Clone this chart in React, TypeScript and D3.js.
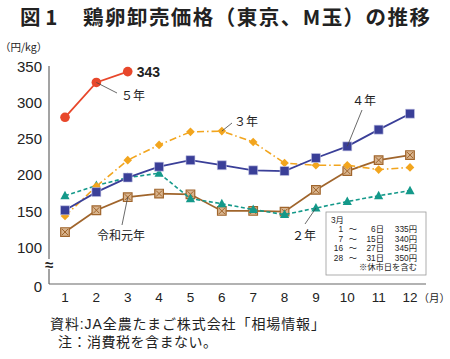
import React from "react";
import * as d3 from "d3";

const months = [1, 2, 3, 4, 5, 6, 7, 8, 9, 10, 11, 12];
const r5 = [280, 328, 343];
const r4 = [152, 177, 197, 212, 221, 214, 207, 206, 224, 240, 263, 285];
const r3 = [144, 185, 221, 242, 260, 261, 246, 217, 214, 214, 208, 211];
const r2 = [172, 186, 197, 203, 168, 161, 153, 146, 155, 164, 172, 179];
const r1 = [122, 152, 170, 175, 174, 151, 151, 150, 180, 206, 221, 228];
const yTicks = [0, 100, 150, 200, 250, 300, 350];
const boxLines = [
  ["1", "6日", "335円"],
  ["7", "15日", "340円"],
  ["16", "27日", "345円"],
  ["28", "31日", "350円"],
];

const FONT = "'Liberation Sans', 'Noto Sans CJK JP', sans-serif";
const JP = "'Noto Sans CJK JP', sans-serif";

const RED = "#e8472b";
const NAVY = "#3a3f98";
const ORANGE = "#f2a51e";
const TEAL = "#14998a";
const BROWN = "#a0652c";

export default function App() {
  const x = d3.scaleLinear().domain([1, 12]).range([65, 410]);
  const y = d3.scaleLinear().domain([0, 100, 350]).range([284, 248, 66.5]);
  const line = (arr: number[]) =>
    d3.line<number>().x((_, i) => x(months[i])).y((d) => y(d))(arr) || "";

  const sq = (cx: number, cy: number, s: number) =>
    `M${cx - s},${cy - s}h${2 * s}v${2 * s}h${-2 * s}Z`;

  const rowY = (i: number) => 223 + i * 9.45;

  return (
    <svg
      width={450}
      height={359}
      style={{ position: "absolute", left: 0, top: 0, background: "#fff" }}
    >
      <text x={20} y={25} fontFamily={JP} fontWeight="bold" fontSize={20.5} fill="#222">
        図 1
      </text>
      <text x={83} y={25} fontFamily={JP} fontWeight="bold" fontSize={20.5} fill="#222" textLength={347} lengthAdjust="spacing">
        鶏卵卸売価格（東京、M玉）の推移
      </text>
      <text x={0} y={51} fontFamily={JP} fontSize={10.5} fill="#222">
        （円/kg）
      </text>

      {/* axes */}
      <line x1={49} y1={66} x2={49} y2={284} stroke="#666" strokeWidth={1.2} />
      <line x1={49} y1={284} x2={426} y2={284} stroke="#666" strokeWidth={1.2} />
      <rect x={44} y={259} width={10} height={10} fill="#fff" />
      <text x={49} y={270} textAnchor="middle" fontFamily={FONT} fontSize={15} fontWeight="bold" fill="#222">≈</text>

      {yTicks.map((t) => (
        <text
          key={t}
          x={42}
          y={(t === 0 ? 287 : y(t)) + 5}
          textAnchor="end"
          fontFamily={FONT}
          fontSize={15}
          fill="#222"
        >
          {t}
        </text>
      ))}
      {months.map((m) => (
        <text key={m} x={x(m)} y={302} textAnchor="middle" fontFamily={FONT} fontSize={13.5} fill="#222">
          {m}
        </text>
      ))}
      <text x={418.5} y={302} fontFamily={FONT} fontSize={10.5} fill="#222">（月）</text>

      {/* 令和元年 */}
      <path d={line(r1)} fill="none" stroke={BROWN} strokeWidth={1.8} />
      {r1.map((v, i) => {
        const cx = x(months[i]);
        const cy = y(v);
        return (
          <g key={"a" + i}>
            <path d={sq(cx, cy, 4.3)} fill="#d8b48e" stroke={BROWN} strokeWidth={1.2} />
            <path d={`M${cx - 3},${cy - 3}L${cx + 3},${cy + 3}M${cx + 3},${cy - 3}L${cx - 3},${cy + 3}`} stroke={BROWN} strokeWidth={1} />
          </g>
        );
      })}

      {/* 2年 */}
      <path d={line(r2)} fill="none" stroke={TEAL} strokeWidth={1.6} strokeDasharray="4,2.5" />
      {r2.map((v, i) => {
        const cx = x(months[i]);
        const cy = y(v);
        return <path key={"b" + i} d={`M${cx},${cy - 5}L${cx + 4.6},${cy + 3.5}L${cx - 4.6},${cy + 3.5}Z`} fill={TEAL} />;
      })}

      {/* 3年 */}
      <path d={line(r3)} fill="none" stroke={ORANGE} strokeWidth={1.6} strokeDasharray="7,3,1.5,3" />
      {r3.map((v, i) => {
        const cx = x(months[i]);
        const cy = y(v);
        return <path key={"c" + i} d={`M${cx},${cy - 4.3}L${cx + 4.3},${cy}L${cx},${cy + 4.3}L${cx - 4.3},${cy}Z`} fill={ORANGE} />;
      })}

      {/* 4年 */}
      <path d={line(r4)} fill="none" stroke={NAVY} strokeWidth={1.8} />
      {r4.map((v, i) => (
        <path key={"d" + i} d={sq(x(months[i]), y(v), 4.5)} fill={NAVY} stroke="#c8cae8" strokeWidth={0.6} />
      ))}

      {/* 5年 */}
      <path d={line(r5)} fill="none" stroke={RED} strokeWidth={1.8} />
      {r5.map((v, i) => (
        <circle key={"e" + i} cx={x(months[i])} cy={y(v)} r={4.8} fill={RED} />
      ))}
      <text x={x(3) + 9} y={y(r5[2]) + 5} fontFamily={FONT} fontWeight="bold" fontSize={14} fill="#222">
        {r5[2]}
      </text>

      {/* labels */}
      <g stroke="#444" strokeWidth={0.8}>
        <line x1={x(2)} y1={y(r5[1])} x2={117} y2={93} />
        <line x1={x(6)} y1={y(r3[5])} x2={232} y2={123} />
        <line x1={x(10)} y1={y(r4[9])} x2={362} y2={110} />
        <line x1={x(3)} y1={y(r1[2])} x2={122} y2={225} />
        <line x1={x(9)} y1={y(r2[8])} x2={305} y2={224} />
      </g>
      <g fontFamily={JP} fontSize={12} fill="#222">
        <text x={121} y={100}>５年</text>
        <text x={234} y={126}>３年</text>
        <text x={352} y={105}>４年</text>
        <text x={97} y={240}>令和元年</text>
        <text x={292} y={240}>２年</text>
      </g>

      {/* inset box */}
      <rect x={326} y={212} width={100} height={63} fill="#fff" stroke="#999" strokeWidth={0.8} />
      <g fontFamily={FONT} fontSize={8.3} fill="#222">
        <text x={331} y={rowY(0)}>3月</text>
        {boxLines.map((l, i) => (
          <text key={i} y={rowY(i + 1)}>
            <tspan x={343} textAnchor="end">{l[0]}</tspan>
            <tspan x={353} textAnchor="middle">～</tspan>
            <tspan x={384} textAnchor="end">{l[1]}</tspan>
            <tspan x={417} textAnchor="end">{l[2]}</tspan>
          </text>
        ))}
        <text x={417} y={rowY(5)} textAnchor="end">※休市日を含む</text>
      </g>

      {/* footnotes */}
      <g fontFamily={FONT} fontSize={14} fill="#222">
        <text x={50} y={329} textLength={275} lengthAdjust="spacing">資料:JA全農たまご株式会社「相場情報」</text>
        <text x={58} y={347} textLength={159} lengthAdjust="spacing">注：消費税を含まない。</text>
      </g>
    </svg>
  );
}
